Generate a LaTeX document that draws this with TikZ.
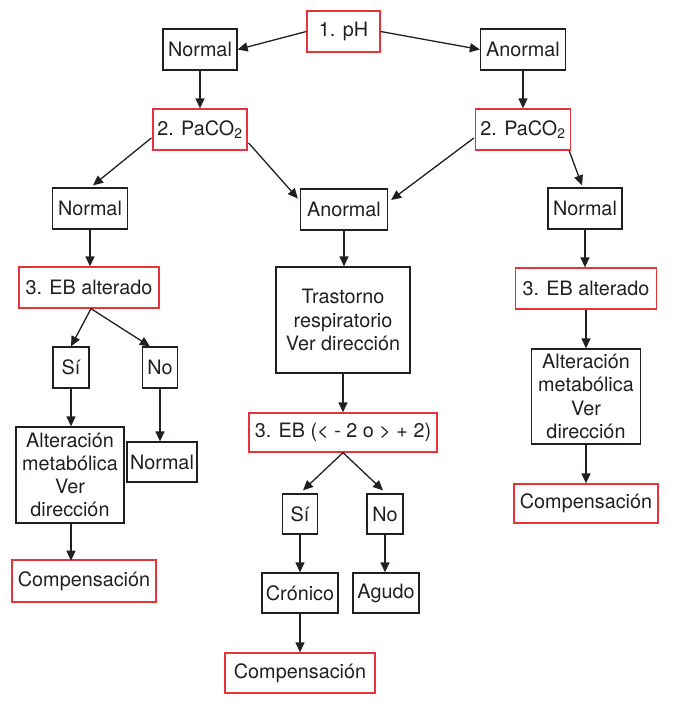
\documentclass[tikz,border=0pt]{standalone}
\usepackage{fontspec}
\setmainfont{TeX Gyre Heros}
\usetikzlibrary{arrows.meta,calc}
\definecolor{ink}{HTML}{231F20}
\definecolor{redline}{HTML}{E8333B}
\tikzset{
  bx/.style n args={2}{draw=ink,line width=1.3pt,minimum width=#1,minimum height=#2,inner sep=0pt,align=center,text=ink,font=\fontsize{19.8}{23.2}\selectfont},
  rbx/.style n args={2}{bx={#1}{#2},draw=redline},
  arr/.style={draw=ink,line width=1.3pt,-{Triangle[length=10pt,width=9pt]}}
}
\begin{document}
\begin{tikzpicture}[x=1pt,y=-1pt]
\useasboundingbox (0,0) rectangle (694,710);
% level 1
\node[rbx={73pt}{41pt}] (ph) at (343.5,31.5) {1. pH};
\node[bx={74pt}{41pt}] (n1) at (200,49.5) {Normal};
\node[bx={85pt}{41pt}] (a1) at (523,49.5) {Anormal};
% level 2
\node[rbx={94pt}{41pt}] (p2l) at (200,129.5) {2. PaCO\textsubscript{2}};
\node[rbx={95pt}{41pt}] (p2r) at (523,129.5) {2. PaCO\textsubscript{2}};
% level 3
\node[bx={75pt}{41pt}] (n2l) at (90,208.5) {Normal};
\node[bx={87pt}{41pt}] (a2) at (344,209.5) {Anormal};
\node[bx={74pt}{41pt}] (n2r) at (585,208.5) {Normal};
% level 4
\node[rbx={140pt}{41pt}] (ebl) at (89,287.5) {3. EB alterado};
\node[bx={134pt}{106pt}] (tr) at (343,320) {Trastorno\\respiratorio\\Ver dirección};
\node[rbx={141pt}{41pt}] (ebr) at (586,288.5) {3. EB alterado};
% left branch
\node[bx={36pt}{41pt}] (sil) at (71,367.5) {Sí};
\node[bx={35pt}{41pt}] (nol) at (160,367.5) {No};
\node[bx={108pt}{96pt}] (altl) at (70,475) {Alteración\\metabólica\\Ver\\dirección};
\node[bx={70pt}{40pt}] (norl) at (162,462) {Normal};
\node[rbx={144pt}{42pt}] (compl) at (84,581) {Compensación};
% middle branch
\node[rbx={188pt}{39pt}] (eb3) at (343,432.5) {3. EB (< - 2 o > + 2)};
\node[bx={35pt}{40pt}] (sim) at (300,514) {Sí};
\node[bx={36pt}{40pt}] (nom) at (385,514) {No};
\node[bx={76pt}{40pt}] (cron) at (300,593) {Crónico};
\node[bx={66pt}{40pt}] (agu) at (386,593) {Agudo};
\node[rbx={150pt}{40pt}] (compb) at (300,673) {Compensación};
% right branch
\node[bx={109pt}{95pt}] (altr) at (586,396.5) {Alteración\\metabólica\\Ver\\dirección};
\node[rbx={144pt}{39pt}] (compr) at (586,503.5) {Compensación};
% connectors
\draw[arr] (ph.west) -- (n1.east);
\draw[arr] (ph.east) -- (a1.west);
\draw[arr] (n1.south) -- (n1.south |- p2l.north);
\draw[arr] (a1.south) -- (a1.south |- p2r.north);
\draw[arr] ($(p2l.west)+(-1,8.5)$) -- ($(n2l.north)+(3,-2)$);
\draw[arr] ($(p2l.east)+(1,13.5)$) -- ($(a2.west)+(-2,-11)$);
\draw[arr] ($(p2r.west)+(-1,8.5)$) -- ($(a2.east)+(3,-9.5)$);
\draw[arr] ($(p2r.south east)+(-2,0)$) -- ($(n2r.north)+(-3,-2)$);
\draw[arr] (n2l.south) -- (n2l.south |- ebl.north);
\draw[arr] (a2.south) -- (a2.south |- tr.north);
\draw[arr] (n2r.south) -- (n2r.south |- ebr.north);
\draw[arr] ($(ebl.south)+(2,0)$) -- (sil.north);
\draw[arr] ($(ebl.south)+(2,0)$) -- ($(nol.north west)+(8,0)$);
\draw[arr] (sil.south) -- (sil.south |- altl.north);
\draw[arr] (nol.south) -- (nol.south |- norl.north);
\draw[arr] ($(altl.south)+(1,0)$) -- ($(altl.south -| compl.north)+(-13,37)$);
\draw[arr] (tr.south) -- (tr.south |- eb3.north);
\draw[arr] (eb3.south) -- ($(sim.north)+(3,-3)$);
\draw[arr] (eb3.south) -- ($(nom.north)+(-2,-3)$);
\draw[arr] (sim.south) -- (sim.south |- cron.north);
\draw[arr] (nom.south) -- (nom.south |- agu.north);
\draw[arr] (cron.south) -- (cron.south |- compb.north);
\draw[arr] (ebr.south) -- (ebr.south |- altr.north);
\draw[arr] (altr.south) -- (altr.south |- compr.north);
\end{tikzpicture}
\end{document}
